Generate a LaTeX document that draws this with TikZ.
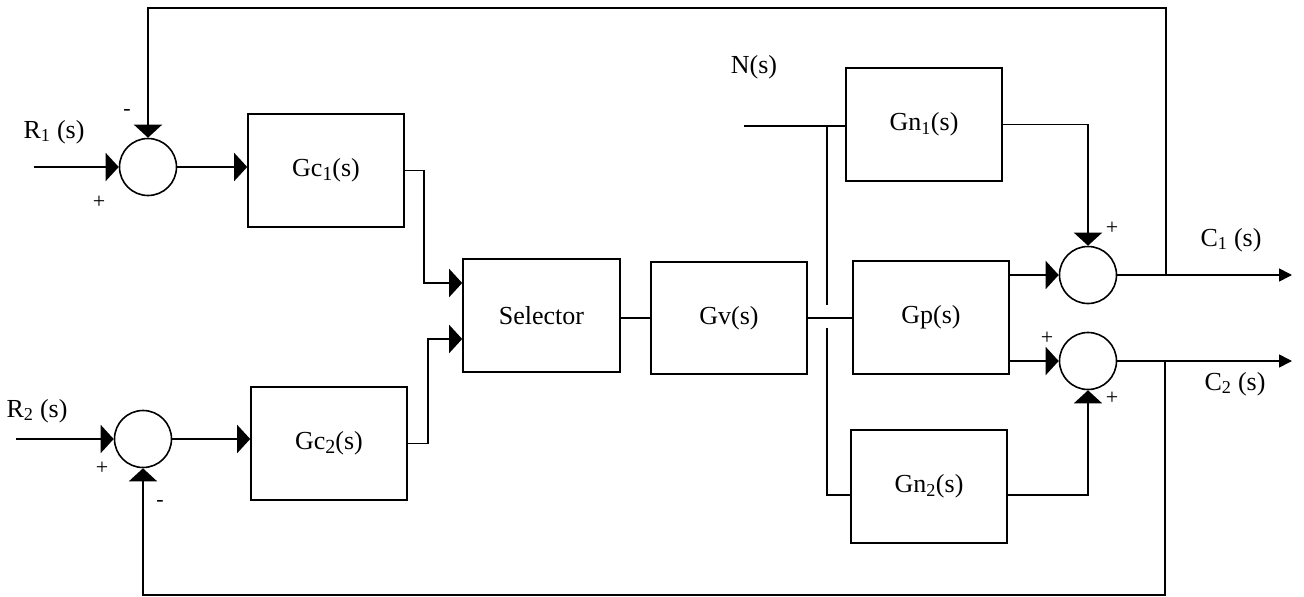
\documentclass[tikz,border=0pt]{standalone}
\usepackage{fontspec}
\setmainfont{Liberation Serif}
\usetikzlibrary{arrows.meta}
\newcommand\lsub[1]{\raisebox{-0.3ex}{\fontsize{20}{20}\selectfont #1}}
\begin{document}
\begin{tikzpicture}[x=1pt,y=-1pt,line width=1.6pt,
  blk/.style={draw,minimum width=156pt,minimum height=113pt,inner sep=0pt,font=\fontsize{26}{30}\selectfont},
  sum/.style={draw,circle,minimum size=57pt,inner sep=0pt},
  arr/.style={-{Triangle[length=13pt,width=28pt]}},
  oarr/.style={-{Triangle[length=13pt,width=13pt]}},
  lbl/.style={font=\fontsize{26}{30}\selectfont,inner sep=0pt},
  sgn/.style={font=\fontsize{22}{24}\selectfont,inner sep=0pt}]
\useasboundingbox (0,0) rectangle (1304,597);
% summing junctions
\node[sum] (s1) at (148,167) {};
\node[sum] (s2) at (143,439) {};
\node[sum] (s3) at (1088,275) {};
\node[sum] (s4) at (1088,361) {};
% blocks
\node[blk] (gc1) at (326,170.5) {Gc\lsub{1}(s)};
\node[blk] (gc2) at (329,443.5) {Gc\lsub{2}(s)};
\node[blk,minimum width=157pt] (sel) at (541.5,315.5) {Selector};
\node[blk,minimum height=112pt] (gv) at (729,318) {Gv(s)};
\node[blk] (gn1) at (924,124.5) {Gn\textsubscript{1}(s)};
\node[blk] (gp) at (931,317.5) {Gp(s)};
\node[blk] (gn2) at (929,486.5) {Gn\textsubscript{2}(s)};
% free ends
\coordinate (r1) at (34,167);
\coordinate (r2) at (16,439);
\coordinate (nin) at (744,126);
\coordinate (c1o) at (1292,275);
\coordinate (c2o) at (1292,361);
\coordinate (fb1) at (1166,275);
\coordinate (fb2) at (1165,361);
\coordinate (ja) at (827,126);
\coordinate (jb) at (827,305);
\coordinate (jc) at (827,328);
% connectors
\draw[arr] (r1) -- (s1.west);
\draw[arr] (s1.east) -- (s1.east -| gc1.west);
\draw[arr] (gc1.east) -| (424,283) -- (424,283 -| sel.west);
\draw[arr] (gc2.east) -| (428,339) -- (428,339 -| sel.west);
\draw[arr] (r2) -- (s2.west);
\draw[arr] (s2.east) -- (s2.east -| gc2.west);
\draw (sel.east |- gv.west) -- (gv.west);
\draw (gv.east) -- (gv.east -| gp.west);
\draw (nin) -- (nin -| gn1.west);
\draw (ja) -- (jb);
\draw (jc) |- (gn2.west |- 0,495);
\draw[arr] (gn1.east) -| (s3.north);
\draw[arr] (gp.east |- s3) -- (s3.west);
\draw[arr] (gp.east |- s4) -- (s4.west);
\draw[arr] (gn2.east |- 0,495) -| (s4.south);
\draw[oarr] (s3.east) -- (c1o);
\draw[oarr] (s4.east) -- (c2o);
\draw[arr] (fb1) |- (s1.north |- 0,8) -- (s1.north);
\draw[arr] (fb2) |- (s2.south |- 0,595) -- (s2.south);
% labels
\node[lbl] (lr1) at (54,132) {R\textsubscript{1} (s)};
\node[lbl] (lr2) at (37,411) {R\textsubscript{2} (s)};
\node[lbl] (ln) at (754,67) {N(s)};
\node[lbl] (lc1) at (1231,240) {C\textsubscript{1} (s)};
\node[lbl] (lc2) at (1235,384) {C\textsubscript{2} (s)};
\node[sgn] at (99,202) {+};
\node[sgn] at (127,112) {-};
\node[sgn] at (102,468) {+};
\node[sgn] at (160,503) {-};
\node[sgn] at (1112,228) {+};
\node[sgn] at (1047,338) {+};
\node[sgn] at (1112,398) {+};
\end{tikzpicture}
\end{document}
